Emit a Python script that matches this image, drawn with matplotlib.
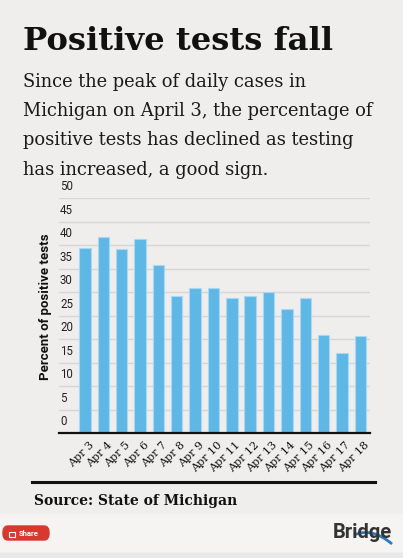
import matplotlib
matplotlib.use("Agg")
import matplotlib.pyplot as plt
from matplotlib.patches import Rectangle, FancyBboxPatch, PathPatch
from matplotlib.path import Path
from matplotlib.lines import Line2D
from matplotlib.transforms import ScaledTranslation, blended_transform_factory

# data
days = ["Apr 3", "Apr 4", "Apr 5", "Apr 6", "Apr 7", "Apr 8", "Apr 9", "Apr 10",
        "Apr 11", "Apr 12", "Apr 13", "Apr 14", "Apr 15", "Apr 16", "Apr 17", "Apr 18"]
pct_positive = [39.5, 41.8, 39.2, 41.3, 35.9, 29.2, 31.0, 30.9,
                28.7, 29.2, 30.1, 26.5, 28.7, 20.9, 17.0, 20.6]
y_ticks = [0, 5, 10, 15, 20, 25, 30, 35, 40, 45, 50]

title = "Positive tests fall"
subtitle_lines = ["Since the peak of daily cases in",
                  "Michigan on April 3, the percentage of",
                  "positive tests has declined as testing",
                  "has increased, a good sign."]
source = "Source: State of Michigan"

W, H = 403, 558
BG = "#efeeed"
BAR = "#5fb7e5"


def fx(px):
    return px / W


def fy(py):
    # pixel row from the top -> figure fraction
    return 1 - py / H


fig = plt.figure(figsize=(W / 100, H / 100), dpi=100)
fig.patch.set_facecolor(BG)

# header text
fig.text(fx(23), fy(50), title, fontsize=23.2, fontweight="heavy",
         family="DejaVu Serif", color="#111111", va="baseline", ha="left")
for i, line in enumerate(subtitle_lines):
    fig.text(fx(23), fy(87 + i * 29.2), line, fontsize=12.9,
             family="DejaVu Serif", color="#1a1a1a", va="baseline", ha="left")

# chart
ax = fig.add_axes([fx(59), fy(433.3), fx(370 - 59), (433.3 - 198.3) / H])
ax.set_facecolor(BG)
x = list(range(len(days)))
ax.bar(x, pct_positive, width=0.62, color=BAR, edgecolor="#a9d8f2",
       linewidth=0.8, zorder=2)
ax.set_xlim(-1.42, 15.53)
ax.set_ylim(0, 50)
ax.set_yticks(y_ticks)
ax.yaxis.grid(True, color="#d6d6d6", linewidth=1, zorder=0)
ax.tick_params(axis="y", length=0, labelleft=False)
for s in ["top", "right", "left"]:
    ax.spines[s].set_visible(False)
ax.spines["bottom"].set_color("#111111")
ax.spines["bottom"].set_linewidth(1.6)
ax.spines["bottom"].set_zorder(3)

# y tick labels sit inside the plot, just above each gridline
trans = blended_transform_factory(ax.transAxes, ax.transData)
lift = ScaledTranslation(0.01, 0.05, fig.dpi_scale_trans)
for t in y_ticks:
    ax.text(0, t, str(t), transform=trans + lift, ha="left", va="bottom",
            fontsize=8.3, family="Roboto", color="#222222")

ax.set_ylabel("Percent of positive tests", fontsize=9.5, fontweight="bold",
              family="Roboto", color="#111111", va="center")
ax.yaxis.set_label_coords(-0.045, 0.54)

ax.set_xticks(x)
ax.set_xticklabels(days, rotation=45, ha="right", va="top",
                   rotation_mode="anchor", fontsize=8, family="DejaVu Serif",
                   color="#111111")
ax.tick_params(axis="x", length=0, pad=4.5)
shift = ScaledTranslation(0.035, 0, fig.dpi_scale_trans)
for lbl in ax.get_xticklabels():
    lbl.set_transform(lbl.get_transform() + shift)

# source rule and text
fig.add_artist(Line2D([fx(32), fx(375)], [fy(481.7), fy(481.7)],
                      color="#111111", linewidth=2.2))
fig.text(fx(34), fy(505), source, fontsize=10, fontweight="bold",
         family="DejaVu Serif", color="#111111", va="baseline", ha="left")

# footer strip
fig.add_artist(Rectangle((0, fy(553)), 1, (553 - 514) / H,
                         transform=fig.transFigure, color="#f5f4f2", zorder=0))
fig.add_artist(Rectangle((0, 0), 1, fy(553),
                         transform=fig.transFigure, color="#e9e9e9", zorder=0))

# share button
fig.add_artist(FancyBboxPatch((fx(3), fy(540)), fx(46), (540 - 526) / H,
                              boxstyle="round,pad=0,rounding_size=0.012",
                              transform=fig.transFigure, color="#d9382f"))
fig.add_artist(Rectangle((fx(9), fy(536.5)), fx(6), 5 / H, fill=False,
                         edgecolor="white", linewidth=0.8,
                         transform=fig.transFigure))
fig.text(fx(19), fy(536.5), "Share", fontsize=5.5, fontweight="bold",
         family="Roboto", color="white", va="baseline", ha="left")

# Bridge logo
fig.text(fx(333), fy(537.5), "Bridge", fontsize=14.5, fontweight="bold",
         family="Roboto", color="#333333", va="baseline", ha="left")
swoosh = Path([(fx(354), fy(535)), (fx(372), fy(527)), (fx(392), fy(544))],
              [Path.MOVETO, Path.CURVE3, Path.CURVE3])
fig.add_artist(PathPatch(swoosh, transform=fig.transFigure, fill=False,
                         edgecolor="#2a78c2", linewidth=2))

fig.savefig("out.png", dpi=100, facecolor=fig.get_facecolor())
